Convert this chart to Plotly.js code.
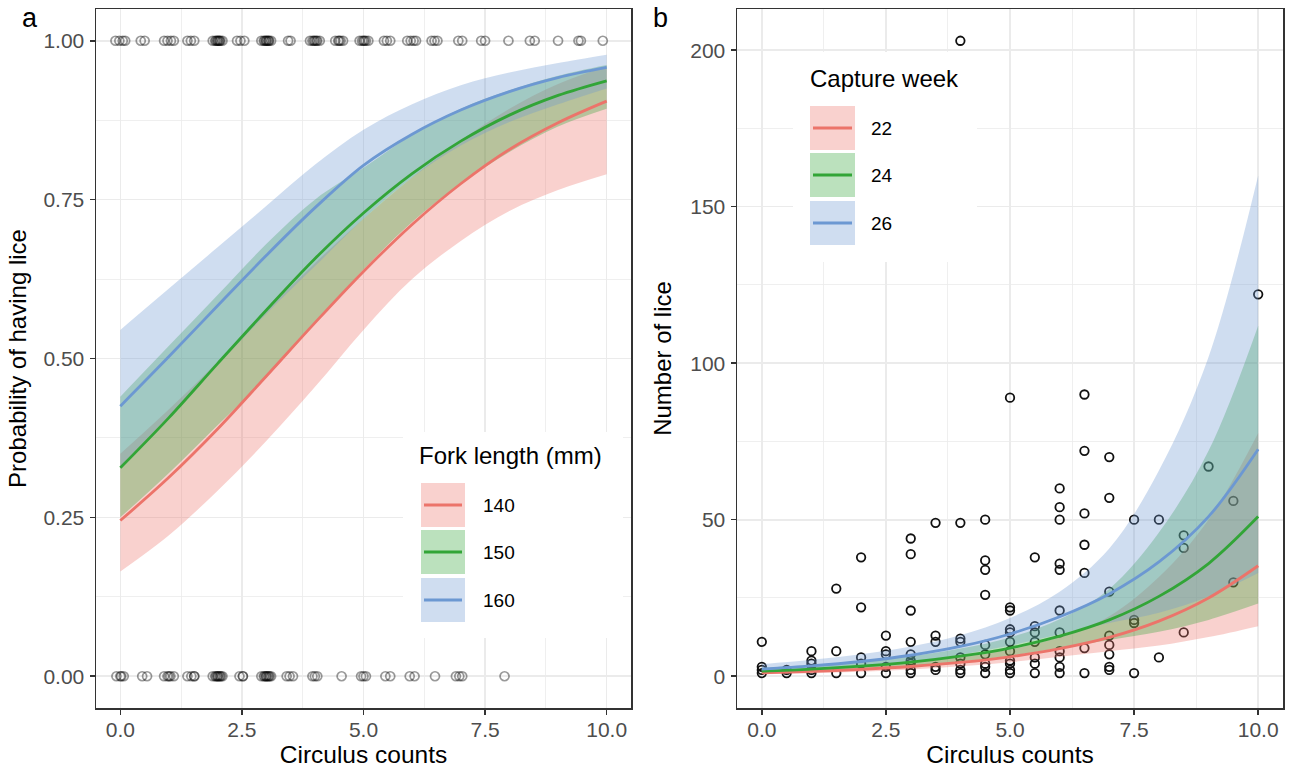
<!DOCTYPE html>
<html>
<head>
<meta charset="utf-8">
<script src="https://cdn.plot.ly/plotly-3.0.1.min.js"></script>
<style>html,body{margin:0;padding:0;background:#fff;}#chart{width:1291px;height:770px;}</style>
</head>
<body>
<div id="chart"></div>
<script>
// ---------- Panel a: probability of having lice ----------
const circulus = [0, 1, 2, 3, 4, 5, 6, 7, 8, 9, 10];
const forkLabels = ['140', '150', '160'];
const fork140Fit = [0.245, 0.313, 0.389, 0.472, 0.556, 0.637, 0.711, 0.775, 0.829, 0.871, 0.905];
const fork140Lo  = [0.165, 0.222, 0.292, 0.370, 0.455, 0.545, 0.625, 0.685, 0.732, 0.765, 0.790];
const fork140Hi  = [0.350, 0.420, 0.495, 0.575, 0.650, 0.720, 0.785, 0.843, 0.893, 0.932, 0.960];
const fork150Fit = [0.328, 0.407, 0.492, 0.576, 0.657, 0.729, 0.791, 0.842, 0.883, 0.914, 0.937];
const fork150Lo  = [0.250, 0.320, 0.395, 0.470, 0.555, 0.640, 0.715, 0.775, 0.825, 0.865, 0.893];
const fork150Hi  = [0.440, 0.520, 0.600, 0.680, 0.750, 0.800, 0.852, 0.893, 0.922, 0.945, 0.962];
const fork160Fit = [0.425, 0.503, 0.583, 0.662, 0.737, 0.804, 0.853, 0.891, 0.920, 0.942, 0.958];
const fork160Lo  = [0.330, 0.410, 0.490, 0.570, 0.645, 0.720, 0.785, 0.835, 0.872, 0.900, 0.925];
const fork160Hi  = [0.545, 0.610, 0.675, 0.740, 0.805, 0.860, 0.900, 0.930, 0.950, 0.965, 0.978];

// observed fish: circulus counts of fish with lice (1) and without (0)
const withLiceX = [-0.1, -0.02, 0.05, 0.1, 0.42, 0.5, 0.9, 0.97, 1.04, 1.1, 1.38, 1.45, 1.52,
  1.9, 1.95, 2.0, 2.03, 2.06, 2.1, 1.97, 2.04, 2.0, 2.4, 2.47, 2.55,
  2.9, 2.95, 3.0, 3.05, 3.1, 3.0, 2.97, 3.03, 3.06, 3.45, 3.5,
  3.9, 3.95, 4.0, 4.05, 4.1, 3.98, 4.03, 4.42, 4.48, 4.53, 4.58, 4.5,
  4.92, 4.97, 5.0, 5.05, 5.1, 5.02, 5.42, 5.48, 5.55,
  5.9, 5.97, 6.03, 6.08, 6.4, 6.46, 6.52, 6.95, 7.03, 7.42, 7.5, 7.98, 8.42, 8.52, 9.0, 9.42, 9.47, 9.92];
const withoutLiceX = [-0.08, 0.0, 0.07, 0.02, 0.45, 0.55, 0.9, 0.97, 1.03, 1.1, 1.0, 1.38, 1.46, 1.52, 1.52,
  1.9, 1.95, 2.0, 2.05, 2.1, 2.0, 1.97, 2.03, 2.07, 2.45, 2.52, 2.52,
  2.9, 2.95, 3.0, 3.05, 3.1, 3.0, 2.97, 3.03, 3.07, 3.42, 3.48, 3.55,
  3.95, 4.0, 4.05, 4.55, 4.95, 5.0, 5.05, 5.45, 5.55, 5.95, 6.05, 6.47, 6.9, 6.97, 7.03, 7.9];
const presenceTicks = [0, 0.25, 0.5, 0.75, 1.0];

// ---------- Panel b: number of lice ----------
const weekLabels = ['22', '24', '26'];
const week22Fit = [1.1, 1.55, 2.2, 3.1, 4.4, 6.2, 8.8, 12.4, 17.6, 25.0, 35.3];
const week22Lo  = [0.65, 0.97, 1.47, 2.18, 3.19, 4.49, 6.2, 8.0, 9.78, 12.5, 16.0];
const week22Hi  = [1.87, 2.48, 3.3, 4.4, 6.07, 8.56, 12.5, 19.2, 31.7, 50.0, 77.7];
const week24Fit = [1.6, 2.25, 3.2, 4.5, 6.4, 9.0, 12.8, 18.0, 25.5, 36.0, 51.0];
const week24Lo  = [0.94, 1.41, 2.13, 3.17, 4.64, 6.52, 9.01, 11.6, 14.2, 18.0, 23.2];
const week24Hi  = [2.72, 3.6, 4.8, 6.39, 8.83, 12.4, 18.2, 27.9, 45.9, 72.0, 112.0];
const week26Fit = [2.3, 3.3, 4.7, 6.7, 9.5, 13.5, 19.0, 26.3, 36.5, 51.0, 72.5];
const week26Lo  = [1.35, 2.06, 3.13, 4.72, 6.88, 9.78, 13.4, 17.0, 20.3, 25.5, 33.0];
const week26Hi  = [3.9, 5.3, 7.05, 9.5, 13.1, 18.6, 27.0, 40.8, 65.7, 102.0, 160.0];

const liceX = [4, 10, 5, 6.5, 6.5, 7, 6, 6, 6, 7, 6.5, 9, 9.5, 7.5, 8, 8.5, 8.5, 9.5, 6.5, 6.5, 7, 6, 6, 5.5,
  4.5, 4.5, 4.5, 4.5, 4, 3.5, 3, 3, 3, 2, 2, 1.5, 0, 0, 0, 0.5, 1, 1, 1, 1, 1.5, 1.5, 2, 2, 2,
  2.5, 2.5, 2.5, 2.5, 2.5, 3, 3, 3, 3, 3, 3, 3.5, 3.5, 3.5, 3.5, 4, 4, 4, 4, 4, 4, 4.5, 4.5, 4.5, 4.5, 4.5,
  5, 5, 5, 5, 5, 5, 5, 5, 5, 5, 5.5, 5.5, 5.5, 5.5, 5.5, 5.5, 6, 6, 6, 6, 6, 6, 6.5, 6.5,
  7, 7, 7, 7, 7, 7.5, 7.5, 7.5, 8, 8.5, 0, 1, 0.5];
const liceY = [203, 122, 89, 90, 72, 70, 60, 54, 50, 57, 52, 67, 56, 50, 50, 45, 41, 30, 42, 33, 27, 36, 34, 38,
  50, 37, 34, 26, 49, 49, 44, 39, 21, 38, 22, 28, 11, 3, 1, 1, 8, 5, 4, 1, 8, 1, 6, 4, 1,
  13, 8, 7, 3, 1, 11, 7, 5, 4, 2, 1, 13, 11, 3, 2, 12, 11, 6, 4, 2, 1, 10, 7, 4, 3, 1,
  22, 21, 15, 14, 11, 8, 5, 4, 2, 1, 16, 14, 11, 6, 4, 1, 21, 14, 8, 6, 3, 1, 9, 1,
  13, 10, 7, 3, 2, 18, 17, 1, 6, 14, 2, 2, 2];
const countTicks = [0, 50, 100, 150, 200];
const xTicks = [0, 2.5, 5, 7.5, 10];

// ---------- styling ----------
const lineCols = ['rgb(236,116,106)', 'rgb(50,165,55)', 'rgb(108,152,210)'];
const fillCols = ['rgba(236,116,106,0.33)', 'rgba(50,165,55,0.33)', 'rgba(108,152,210,0.33)'];
const W = 1291, H = 770;
const px = v => v / W;
const py = v => 1 - v / H;

function ribbon(x, lo, hi, col, xa, ya) {
  return [
    {x: x, y: lo, xaxis: xa, yaxis: ya, type: 'scatter', mode: 'lines',
     line: {width: 0, shape: 'spline', color: col}, hoverinfo: 'skip', showlegend: false},
    {x: x, y: hi, xaxis: xa, yaxis: ya, type: 'scatter', mode: 'lines', fill: 'tonexty',
     fillcolor: col, line: {width: 0, shape: 'spline', color: col}, hoverinfo: 'skip', showlegend: false}
  ];
}
function fitLine(x, y, col, xa, ya, name) {
  return {x: x, y: y, xaxis: xa, yaxis: ya, type: 'scatter', mode: 'lines', name: name,
          line: {width: 2.8, color: col, shape: 'spline'}, showlegend: false};
}

const traces = [];
// panel a points
traces.push({x: withLiceX, y: withLiceX.map(() => 1), xaxis: 'x', yaxis: 'y', type: 'scatter', mode: 'markers',
  marker: {symbol: 'circle-open', size: 9, color: 'rgba(0,0,0,0.4)', line: {width: 1.7}}, showlegend: false});
traces.push({x: withoutLiceX, y: withoutLiceX.map(() => 0), xaxis: 'x', yaxis: 'y', type: 'scatter', mode: 'markers',
  marker: {symbol: 'circle-open', size: 9, color: 'rgba(0,0,0,0.4)', line: {width: 1.7}}, showlegend: false});
const aLo = [fork140Lo, fork150Lo, fork160Lo], aHi = [fork140Hi, fork150Hi, fork160Hi], aFit = [fork140Fit, fork150Fit, fork160Fit];
for (let i = 0; i < 3; i++) traces.push(...ribbon(circulus, aLo[i], aHi[i], fillCols[i], 'x', 'y'));
for (let i = 0; i < 3; i++) traces.push(fitLine(circulus, aFit[i], lineCols[i], 'x', 'y', forkLabels[i]));

// panel b
traces.push({x: liceX, y: liceY, xaxis: 'x2', yaxis: 'y2', type: 'scatter', mode: 'markers',
  marker: {symbol: 'circle-open', size: 8.5, color: '#111', line: {width: 1.8}}, showlegend: false});
const bLo = [week22Lo, week24Lo, week26Lo], bHi = [week22Hi, week24Hi, week26Hi], bFit = [week22Fit, week24Fit, week26Fit];
for (let i = 0; i < 3; i++) traces.push(...ribbon(circulus, bLo[i], bHi[i], fillCols[i], 'x2', 'y2'));
for (let i = 0; i < 3; i++) traces.push(fitLine(circulus, bFit[i], lineCols[i], 'x2', 'y2', weekLabels[i]));

const axisCommon = {
  ticks: 'outside', ticklen: 5, tickwidth: 1.5, tickcolor: '#333',
  showline: true, mirror: true, linecolor: '#333', linewidth: 1.5,
  showgrid: true, gridcolor: '#EBEBEB', gridwidth: 1.6, zeroline: false,
  tickfont: {size: 21, color: '#4D4D4D'}, automargin: false
};
const xCommon = Object.assign({}, axisCommon, {
  range: [-0.5, 10.5], tickvals: xTicks, tickformat: '.1f', ticklabelstandoff: -3,
  minor: {dtick: 1.25, tick0: 0, showgrid: true, gridcolor: '#EBEBEB', gridwidth: 0.8, ticks: ''},
  title: {text: 'Circulus counts', font: {size: 24.5, color: '#000'}, standoff: 3}
});

const layout = {
  width: W, height: H,
  margin: {l: 0, r: 0, t: 0, b: 0},
  paper_bgcolor: '#fff', plot_bgcolor: '#fff',
  font: {family: 'Liberation Sans, Arial, Helvetica, sans-serif', color: '#000'},
  showlegend: false,
  xaxis: Object.assign({}, xCommon, {domain: [px(96), px(631)], anchor: 'y'}),
  yaxis: Object.assign({}, axisCommon, {
    domain: [py(708), py(9)], anchor: 'x', range: [-0.05, 1.05], tickvals: presenceTicks, tickformat: '.2f',
    ticklabelstandoff: 1,
    minor: {dtick: 0.125, tick0: 0, showgrid: true, gridcolor: '#EBEBEB', gridwidth: 0.8, ticks: ''},
    title: {text: 'Probability of having lice', font: {size: 24, color: '#000'}, standoff: 10}
  }),
  xaxis2: Object.assign({}, xCommon, {domain: [px(737), px(1283)], anchor: 'y2'}),
  yaxis2: Object.assign({}, axisCommon, {
    domain: [py(708), py(9)], anchor: 'x2', range: [-10.15, 213.15], tickvals: countTicks,
    ticklabelstandoff: 1,
    minor: {dtick: 25, tick0: 0, showgrid: true, gridcolor: '#EBEBEB', gridwidth: 0.8, ticks: ''},
    title: {text: 'Number of lice', font: {size: 24, color: '#000'}, standoff: 12}
  }),
  shapes: [],
  annotations: [
    {text: 'a', x: px(30), y: py(18), xref: 'paper', yref: 'paper', showarrow: false, font: {size: 27, color: '#000'}, xanchor: 'center', yanchor: 'middle'},
    {text: 'b', x: px(660), y: py(18), xref: 'paper', yref: 'paper', showarrow: false, font: {size: 27, color: '#000'}, xanchor: 'center', yanchor: 'middle'}
  ]
};

// legend boxes (drawn as shapes/annotations, ggplot-like keys)
function addLegend(box, title, titleX, titleY, keyX0, keyX1, keyYs, labelX, labels) {
  layout.shapes.push({type: 'rect', xref: 'paper', yref: 'paper', layer: 'above',
    x0: px(box[0]), x1: px(box[1]), y0: py(box[3]), y1: py(box[2]), fillcolor: '#fff', line: {width: 0}});
  layout.annotations.push({text: title, x: px(titleX), y: py(titleY), xref: 'paper', yref: 'paper', showarrow: false,
    xanchor: 'left', yanchor: 'middle', font: {size: 24, color: '#000'}});
  for (let i = 0; i < 3; i++) {
    const y0 = keyYs[i][0], y1 = keyYs[i][1], yc = (y0 + y1) / 2;
    layout.shapes.push({type: 'rect', xref: 'paper', yref: 'paper', layer: 'above',
      x0: px(keyX0), x1: px(keyX1), y0: py(y1), y1: py(y0), fillcolor: fillCols[i], line: {width: 0}});
    layout.shapes.push({type: 'line', xref: 'paper', yref: 'paper', layer: 'above',
      x0: px(keyX0 + 3), x1: px(keyX1 - 3), y0: py(yc), y1: py(yc), line: {color: lineCols[i], width: 2.8}});
    layout.annotations.push({text: labels[i], x: px(labelX), y: py(yc), xref: 'paper', yref: 'paper', showarrow: false,
      xanchor: 'left', yanchor: 'middle', font: {size: 19, color: '#000'}});
  }
}
addLegend([403, 623, 432, 638], 'Fork length (mm)', 417, 455, 421, 465,
  [[483, 527], [530, 574], [578, 622]], 481, forkLabels);
addLegend([793, 977, 52, 262], 'Capture week', 808, 79, 810, 855,
  [[106, 150], [153, 197], [201, 245]], 869, weekLabels);

Plotly.newPlot('chart', traces, layout, {displayModeBar: false, staticPlot: true});
</script>
</body>
</html>
